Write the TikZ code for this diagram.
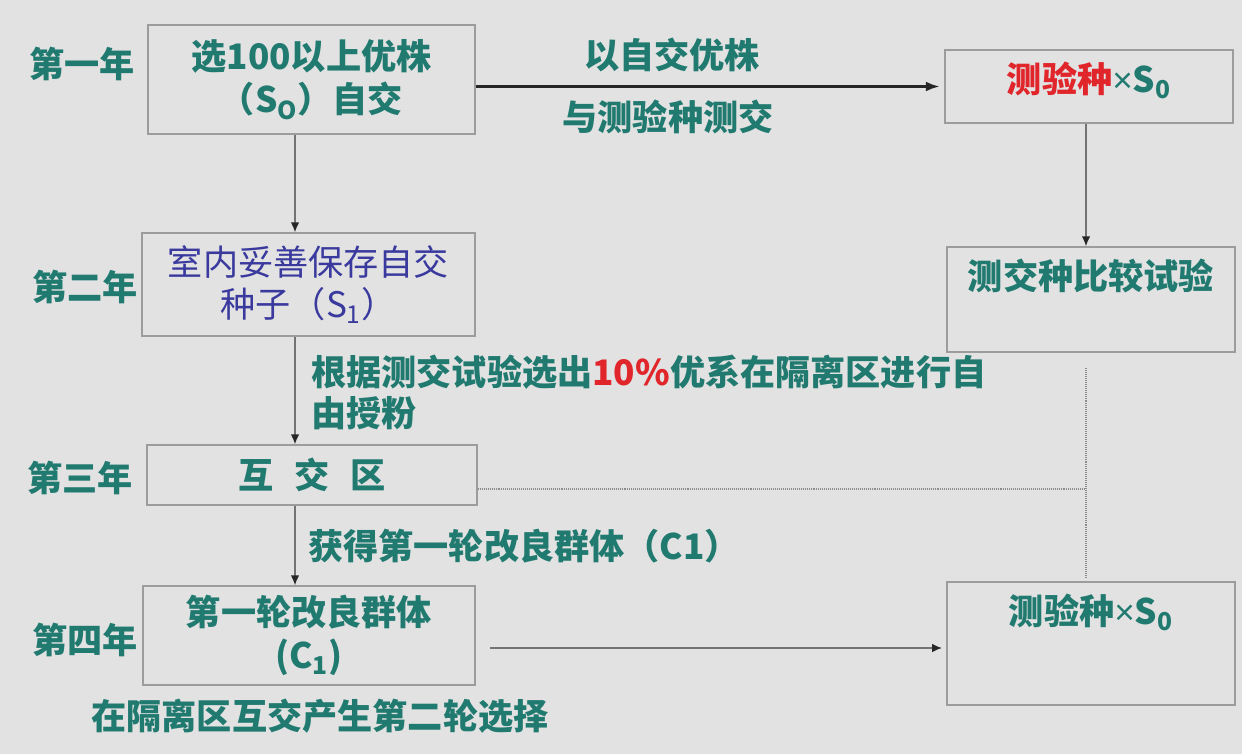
\documentclass[tikz,border=0pt]{standalone}
\usepackage{fontspec}
\newfontfamily\cjk{Noto Sans CJK SC}
\newfontfamily\latin{Liberation Sans}
\usepackage{xcolor}
\usetikzlibrary{positioning,arrows.meta}
\definecolor{colorT}{HTML}{217A70}
\definecolor{colorN}{HTML}{3A3A9E}
\definecolor{colorR}{HTML}{E0262B}
\definecolor{colorG}{HTML}{9C9C9C}
\definecolor{colorBg}{HTML}{E2E2E2}
\newcommand*{\colorR}[1]{\textcolor{colorR}{#1}}
\newcommand*{\cross}{{\latin\mdseries ×}}

\begin{document}
\begin{tikzpicture}[x=0.025cm, y=-0.025cm,
		stage/.style={draw=colorG, line width=1.1pt, inner sep=0pt, text=colorT,
			font=\cjk\bfseries\fontsize{25}{31}\selectfont, align=center},
		boxtext/.style={inner sep=0pt, text=colorT, font=\cjk\bfseries\fontsize{25}{31}\selectfont},
		year/.style={inner sep=0pt, text=colorT, font=\cjk\bfseries\fontsize{25}{30}\selectfont},
		note/.style={inner sep=0pt, text=colorT, font=\cjk\bfseries\fontsize{25}{29}\selectfont},
		flow/.style={draw=black!55, line width=0.9pt, -{Latex[length=7pt,width=6pt,color=black!85]}},
		mainflow/.style={draw=black!85, line width=2pt, -{Latex[length=10pt,width=7pt]}},
		dots/.style={draw=black!45, line width=0.9pt, dash pattern=on 0.7pt off 0.7pt},
	]
		\fill[colorBg] (0,0) rectangle (1242,754);
		\useasboundingbox (0,0) rectangle (1242,754);
		%
		\node[stage, minimum width=8.175cm, minimum height=2.725cm] (b1) at (311.5,79.5)
			{选100以上优株\\（S\textsubscript{O}）自交};
		\node[stage, minimum width=8.325cm, minimum height=2.575cm, text=colorN,
			font=\cjk\fontsize{25}{30}\selectfont] (b2) at (308.5,284.5)
			{室内妥善保存自交\\种子（S\textsubscript{1}）};
		\node[stage, minimum width=8.25cm, minimum height=1.5cm] (b3) at (312,475)
			{互\hspace{0.6em}交\hspace{0.6em}区};
		\node[stage, minimum width=8.3cm, minimum height=2.475cm] (b4) at (309,635.5)
			{第一轮改良群体\\(C\textsubscript{1})};
		%
		\node[stage, minimum width=7.2cm, minimum height=1.825cm] (r1) at (1089,86.5) {};
		\node[stage, minimum width=7.2cm, minimum height=2.625cm] (r2) at (1091,299.5) {};
		\node[stage, minimum width=7.2cm, minimum height=3.075cm] (r3) at (1091,643.5) {};
		\node[boxtext, below=9pt] (r1t) at (r1.north) {\colorR{测验种}\cross S\textsubscript{0}};
		\node[boxtext, below=9pt] (r2t) at (r2.north) {测交种比较试验};
		\node[boxtext, below=9pt] (r3t) at (r3.north) {测验种\cross S\textsubscript{0}};
		%
		\node[year] (y1) at (82,64) {第一年};
		\node[year] (y2) at (85,287) {第二年};
		\node[year] (y3) at (80,478) {第三年};
		\node[year] (y4) at (85,640) {第四年};
		%
		\coordinate (spine) at (295,0);
		\coordinate (rspine) at (1086,0);
		\coordinate (c4) at (490,648);
		\coordinate (dotjoin) at (1086,489);
		\coordinate (dottop) at (1086,368);
		\coordinate (dotbot) at (1086,577);
		%
		\draw[mainflow, shorten >=3pt] (b1.east |- r1.west) -- (r1.west);
		\draw[flow] (b1.south -| spine) -- (b2.north -| spine);
		\draw[flow] (b2.south -| spine) -- (b3.north -| spine);
		\draw[flow] (b3.south -| spine) -- (b4.north -| spine);
		\draw[flow] (r1.south -| rspine) -- (r2.north -| rspine);
		\draw[flow, shorten >=3pt] (c4) -- (r3.west |- c4);
		\draw[dots] (b3.east |- dotjoin) -- (dotjoin);
		\draw[dots] (dottop) -- (dotbot);
		%
		\node[note] (n1) at (672,55) {以自交优株};
		\node[note] (n2) at (668,117) {与测验种测交};
		\node[note, anchor=north west, align=left] (n3) at (311,355)
			{根据测交试验选出\colorR{10\%}优系在隔离区进行自\\由授粉};
		\node[note, anchor=west] (n4) at (308,546) {获得第一轮改良群体（C1）};
		\node[note] (n5) at (320,716) {在隔离区互交产生第二轮选择};
	\end{tikzpicture}
\end{document}
